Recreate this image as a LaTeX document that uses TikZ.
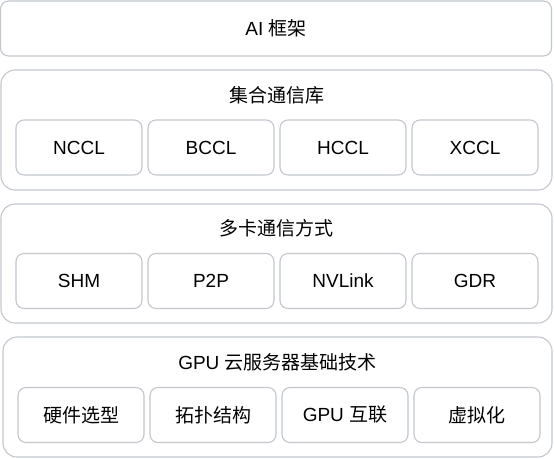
\documentclass[tikz,border=0pt]{standalone}
\usepackage{fontspec}
\setmainfont{Liberation Sans}
\newfontfamily\cjk{Noto Sans CJK SC}
\usetikzlibrary{positioning}
\definecolor{boxline}{HTML}{C3C7CE}
\begin{document}
\begin{tikzpicture}[x=1pt, y=-1pt,
	layerbox/.style={draw=boxline, line width=1.1pt, fill=white, rounded corners=14pt,
		minimum width=551pt, minimum height=120pt, inner sep=0pt, outer sep=0pt},
	itembox/.style={draw=boxline, line width=1.1pt, fill=white, rounded corners=8pt,
		minimum width=126pt, minimum height=55pt, inner sep=0pt, outer sep=0pt,
		font=\fontsize{19}{22}\selectfont},
	layertitle/.style={font=\fontsize{19}{22}\selectfont}]
	
	\useasboundingbox (0,0) rectangle (554,458);
	
	% top layer
	\node[layerbox, rounded corners=8pt, minimum height=55pt] (ai) at (276,28.5) {};
	\node[layertitle] (aititle) at (ai.center) {AI {\cjk 框架}};
	
	% collective communication libraries
	\node[layerbox] (ccl) at (276.5,130) {};
	\node[layertitle] (ccltitle) at (276.5,95) {\cjk 集合通信库};
	\node[itembox] (nccl) at (79,147.5) {NCCL};
	\node[itembox, right=6pt of nccl] (bccl) {BCCL};
	\node[itembox, right=6pt of bccl] (hccl) {HCCL};
	\node[itembox, right=6pt of hccl] (xccl) {XCCL};
	
	% multi-card communication
	\node[layerbox, minimum height=119pt] (comm) at (276.5,263.5) {};
	\node[layertitle] (commtitle) at (276.5,228) {\cjk 多卡通信方式};
	\node[itembox] (shm) at (79,281) {SHM};
	\node[itembox, right=6pt of shm] (p2p) {P2P};
	\node[itembox, right=6pt of p2p] (nvlink) {NVLink};
	\node[itembox, right=6pt of nvlink] (gdr) {GDR};
	
	% GPU cloud server basics
	\node[layerbox, minimum width=549pt] (base) at (277.5,397) {};
	\node[layertitle] (basetitle) at (277.5,362) {GPU {\cjk 云服务器基础技术}};
	\node[itembox] (hw) at (81,415) {\cjk 硬件选型};
	\node[itembox, right=6pt of hw] (topo) {\cjk 拓扑结构};
	\node[itembox, right=6pt of topo] (link) {GPU {\cjk 互联}};
	\node[itembox, right=6pt of link] (virt) {\cjk 虚拟化};
\end{tikzpicture}
\end{document}
